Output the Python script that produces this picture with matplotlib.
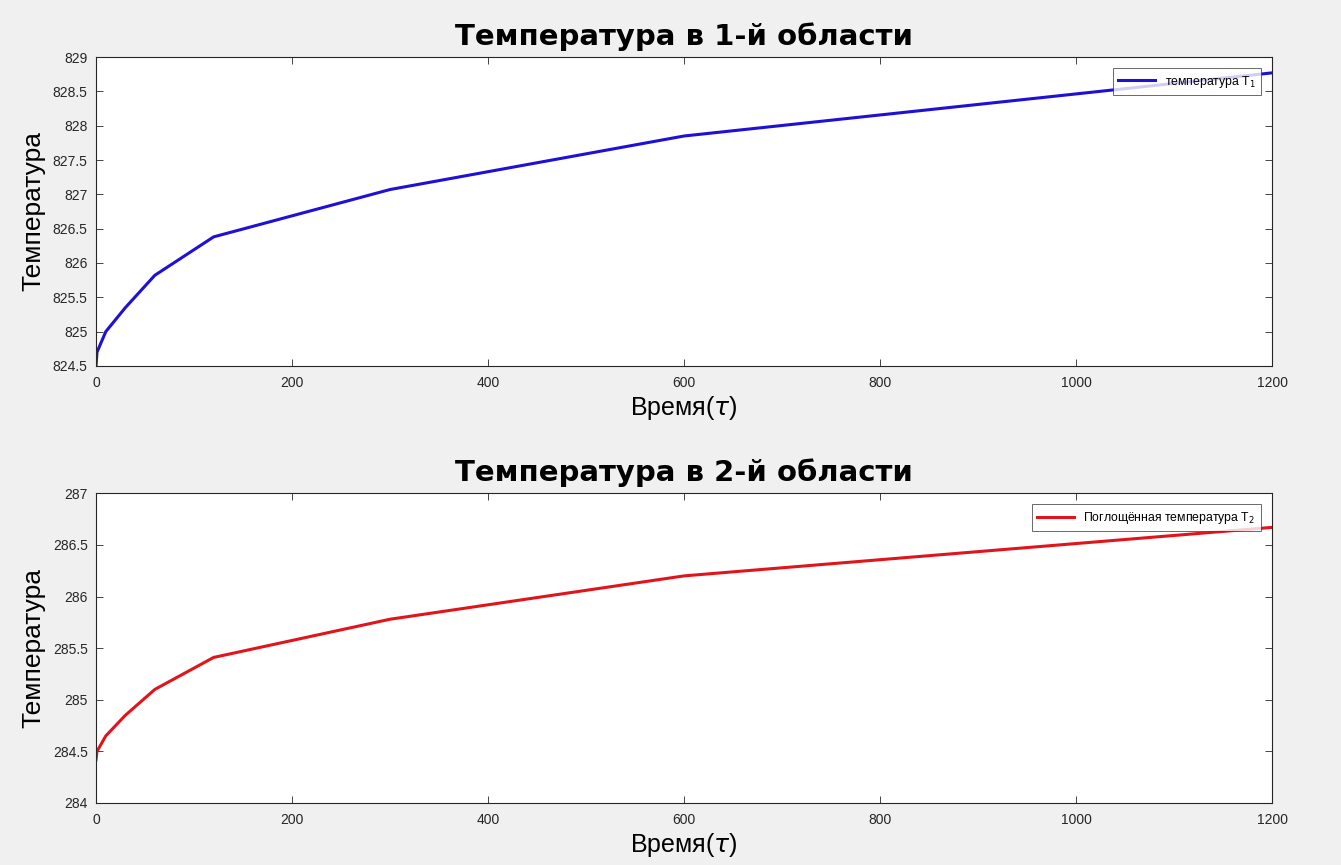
import matplotlib
matplotlib.use("Agg")
import matplotlib.pyplot as plt

plt.rcParams['font.family'] = ['Liberation Sans', 'DejaVu Sans']
plt.rcParams['mathtext.fontset'] = 'dejavusans'

t = [0, 1, 10, 30, 60, 120, 300, 600, 1200]
T1 = [824.5, 824.7, 825.0, 825.35, 825.82, 826.38, 827.07, 827.85, 828.77]
T2 = [284.42, 284.5, 284.65, 284.85, 285.1, 285.41, 285.78, 286.2, 286.67]

xticks = [0, 200, 400, 600, 800, 1000, 1200]
y1ticks = [824.5, 825, 825.5, 826, 826.5, 827, 827.5, 828, 828.5, 829]
y2ticks = [284, 284.5, 285, 285.5, 286, 286.5, 287]

fig = plt.figure(figsize=(13.41, 8.65), dpi=100, facecolor='#f0f0f0')
ax1 = fig.add_axes([0.0716, 0.577, 0.877, 0.357])
ax2 = fig.add_axes([0.0716, 0.0717, 0.877, 0.358])

specs = [
    (ax1, T1, '#1e10d6', 'температура T$_1$', 'Температура в 1-й области', y1ticks, (824.5, 829)),
    (ax2, T2, '#e0141b', 'Поглощённая температура T$_2$', 'Температура в 2-й области', y2ticks, (284, 287)),
]
for ax, T, col, lab, title, yt, ylim in specs:
    ax.plot(t, T, color=col, lw=2.2, label=lab)
    ax.set_xlim(0, 1200)
    ax.set_ylim(*ylim)
    ax.set_xticks(xticks)
    ax.set_yticks(yt)
    ax.set_yticklabels([('%g' % v) for v in yt])
    ax.tick_params(direction='in', top=True, right=True, labelsize=10,
                   colors='#262626', length=5, width=0.6)
    ax.tick_params(axis='x', pad=7)
    ax.tick_params(axis='y', pad=6)
    for s in ax.spines.values():
        s.set_color('#262626')
        s.set_linewidth(0.8)
    ax.set_title(title, fontsize=21, fontweight='bold', pad=9,
                 family=['DejaVu Sans'])
    ax.set_xlabel('Время($\\tau$)', fontsize=18, labelpad=3)
    ax.set_ylabel('Температура', fontsize=19, labelpad=5)
    leg = ax.legend(loc='upper right', fontsize=8.8, frameon=True, fancybox=False,
                    edgecolor='#262626', borderaxespad=0.9, handlelength=3.0,
                    borderpad=0.45, handletextpad=0.8)
    leg.get_frame().set_linewidth(0.6)

fig.savefig('out.png', dpi=100, facecolor=fig.get_facecolor())
